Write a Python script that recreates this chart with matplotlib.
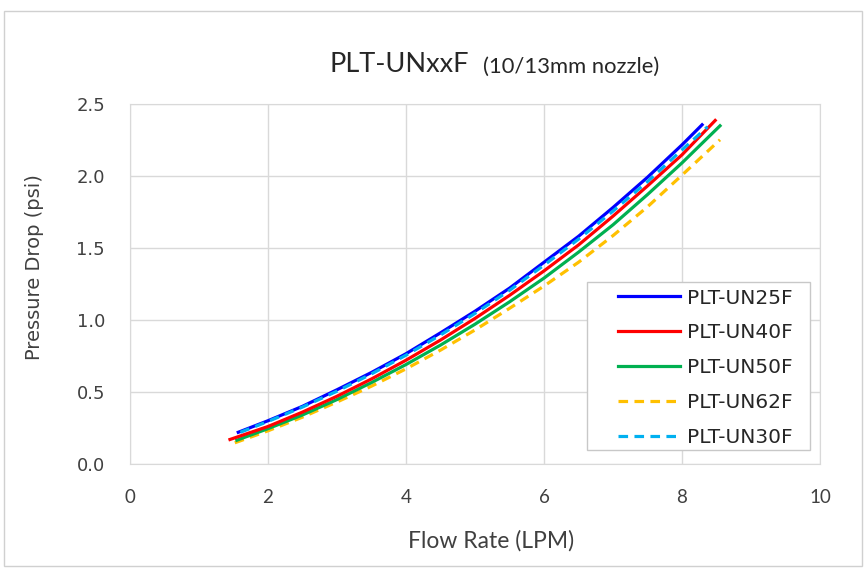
import matplotlib.pyplot as plt
import matplotlib.patches as mpatches

plt.rcParams['font.family'] = ['Lato', 'DejaVu Sans']

# Flow rate (LPM) vs pressure drop (psi)
x_un25 = [1.57, 2, 2.5, 3, 3.5, 4, 4.5, 5, 5.5, 6, 6.5, 7, 7.5, 8, 8.29]
y_un25 = [0.22, 0.30, 0.40, 0.515, 0.635, 0.765, 0.91, 1.06, 1.22, 1.40, 1.58, 1.78, 1.99, 2.215, 2.354]
x_un40 = [1.45, 2, 2.5, 3, 3.5, 4, 4.5, 5, 5.5, 6, 6.5, 7, 7.5, 8, 8.48]
y_un40 = [0.17, 0.26, 0.36, 0.47, 0.59, 0.72, 0.86, 1.01, 1.17, 1.34, 1.52, 1.72, 1.93, 2.146, 2.384]
x_un50 = [1.55, 2, 2.5, 3, 3.5, 4, 4.5, 5, 5.5, 6, 6.5, 7, 7.5, 8, 8.55]
y_un50 = [0.165, 0.245, 0.34, 0.447, 0.565, 0.69, 0.825, 0.97, 1.125, 1.29, 1.47, 1.66, 1.87, 2.09, 2.347]
x_un62 = [1.52, 2, 2.5, 3, 3.5, 4, 4.5, 5, 5.5, 6, 6.5, 7, 7.5, 8, 8.55]
y_un62 = [0.147, 0.23, 0.325, 0.43, 0.54, 0.66, 0.79, 0.93, 1.08, 1.235, 1.40, 1.585, 1.785, 2.005, 2.25]
x_un30 = [1.6, 2, 2.5, 3, 3.5, 4, 4.5, 5, 5.5, 6, 6.5, 7, 7.5, 8, 8.37]
y_un30 = [0.22, 0.295, 0.395, 0.505, 0.625, 0.755, 0.895, 1.045, 1.205, 1.38, 1.56, 1.755, 1.96, 2.18, 2.34]

xticks = [0, 2, 4, 6, 8, 10]
yticks = [0.0, 0.5, 1.0, 1.5, 2.0, 2.5]

fig = plt.figure(figsize=(8.66, 5.7), dpi=100)
ax = fig.add_axes([0.150, 0.186, 0.797, 0.632])

# outer chart border
fig.patches.append(mpatches.Rectangle((0.005, 0.007), 0.99, 0.973, transform=fig.transFigure,
                                      fill=False, edgecolor='#d0d0d0', linewidth=1))

lw = 2.3
l1, = ax.plot(x_un62, y_un62, color='#FFC000', lw=lw, ls=(0, (3, 2)), label='PLT-UN62F')
l2, = ax.plot(x_un50, y_un50, color='#00B050', lw=lw, label='PLT-UN50F')
l3, = ax.plot(x_un40, y_un40, color='#FF0000', lw=lw, label='PLT-UN40F')
l4, = ax.plot(x_un25, y_un25, color='#0000FF', lw=lw, label='PLT-UN25F')
l5, = ax.plot(x_un30, y_un30, color='#00B0F0', lw=lw, ls=(0, (3, 2)), label='PLT-UN30F')

ax.set_xlim(0, 10)
ax.set_ylim(0, 2.5)
ax.set_xticks(xticks)
ax.set_yticks(yticks)
ax.set_yticklabels([f'{v:.1f}' for v in yticks], family='DejaVu Sans', fontsize=13)
ax.grid(True, color='#d9d9d9', linewidth=1)
ax.set_axisbelow(True)
for s in ax.spines.values():
    s.set_color('#d9d9d9')
ax.tick_params(length=0, colors='#404040')
ax.tick_params(axis='y', pad=18)
ax.tick_params(axis='x', pad=18, labelsize=13.5)

ax.set_xlabel('Flow Rate (LPM)', fontsize=16.5, color='#404040', va='center')
ax.xaxis.set_label_coords(0.523, -0.214)
ax.set_ylabel('Pressure Drop (psi)', fontsize=14, color='#404040', family='DejaVu Sans', va='center')
ax.yaxis.set_label_coords(-0.138, 0.546)

fig.text(0.381, 0.886, 'PLT-UNxxF', fontsize=19.5, color='#262626', ha='left', va='center')
fig.text(0.558, 0.883, '(10/13mm nozzle)', fontsize=15.8, color='#262626', ha='left', va='center')

# legend frame drawn separately so its box can match the reference exactly
ax.add_patch(mpatches.Rectangle((0.6623, 0.0389), 0.3232, 0.4667, transform=ax.transAxes,
                                facecolor='white', edgecolor='#c8c8c8', linewidth=1, zorder=4))
leg = ax.legend([l4, l3, l2, l1, l5], ['PLT-UN25F', 'PLT-UN40F', 'PLT-UN50F', 'PLT-UN62F', 'PLT-UN30F'],
                loc='upper left', bbox_to_anchor=(0.7072, 0.487), frameon=False,
                prop={'family': 'DejaVu Sans', 'size': 14.5},
                handlelength=3.1, borderpad=0, borderaxespad=0, labelspacing=0.79, handletextpad=0.35)
leg.set_zorder(5)
for t in leg.get_texts():
    t.set_color('#262626')

plt.savefig('out.png', dpi=100)
